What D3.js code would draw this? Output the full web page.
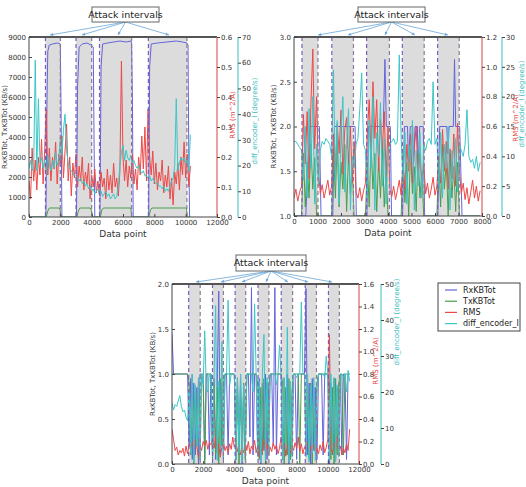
<!DOCTYPE html>
<html>
<head>
<meta charset="utf-8">
<script src="https://cdn.jsdelivr.net/npm/d3@7"></script>
<style>
  body { margin: 0; background: #fff; }
  svg { display: block; }
  text { font-family: "DejaVu Sans", sans-serif; }
</style>
</head>
<body>
<svg id="chart" width="526" height="487"></svg>
<script>
// ---- series names / colours
var seriesNames = ["RxKBTot", "TxKBTot", "RMS", "diff_encoder_I"];
var seriesColors = ["#6464dc", "#4c9c4c", "#ee4848", "#3cc6c6"];

// ---- top-left run
var tlIntervals = [[1050, 2000], [3000, 4000], [4500, 6550], [7620, 10080]];
var tlArrowX = [1340, 3380, 5680, 8940];
var tlRx = [[0,0],[1080,0],[1150,6000],[1200,8300],[1300,8600],[1500,8650],[1800,8700],[2000,8650],[2050,5000],[2100,0],
  [3030,0],[3100,6500],[3200,8500],[3400,8650],[3700,8700],[3950,8600],[4100,8500],[4150,4000],[4200,0],
  [4530,0],[4600,7500],[4700,8650],[5000,8700],[5400,8750],[5800,8800],[6200,8750],[6500,8800],[6550,8700],[6600,6000],[6650,0],
  [7640,0],[7700,7500],[7800,8650],[8200,8700],[8800,8750],[9400,8800],[9800,8750],[10080,8700],[10150,8600],[10200,3000],[10250,0],[10300,0]];
var tlTx = [[0,0],[1100,0],[1200,300],[1300,450],[1950,450],[2000,300],[2050,0],
  [3050,0],[3150,300],[3250,450],[3900,450],[4000,300],[4050,0],
  [4550,0],[4650,350],[4750,450],[6500,450],[6550,0],
  [7650,0],[7750,350],[7850,450],[10050,450],[10100,0],[10300,0]];
var tlStep = 100;
var tlRms = [0.12,0.06,0.23,0.12,0.19,0.09,0.2,0.14,0.26,0.11,
  0.22,0.36,0.14,0.23,0.12,0.2,0.16,0.25,0.11,0.21,
  0.17,0.27,0.13,0.22,0.31,0.12,0.2,0.07,0.18,0.13,
  0.21,0.1,0.17,0.12,0.2,0.09,0.15,0.11,0.18,0.06,
  0.14,0.1,0.16,0.08,0.12,0.07,0.15,0.1,0.13,0.06,
  0.16,0.09,0.14,0.08,0.18,0.1,0.13,0.07,0.15,0.52,
  0.2,0.12,0.19,0.1,0.17,0.13,0.21,0.11,0.16,0.09,
  0.2,0.14,0.27,0.16,0.3,0.12,0.36,0.2,0.14,0.22,
  0.11,0.18,0.09,0.15,0.12,0.19,0.08,0.14,0.1,0.17,
  0.06,0.13,0.04,0.15,0.11,0.18,0.09,0.2,0.14,0.25,
  0.13,0.21,0.1,0.17];
var tlEnc = [19,22,18,20,61,18,46,21,23,19,
  22,17,24,20,18,22,19,25,20,22,
  31,24,34,40,26,21,19,18,17,16,
  16,15,14,15,13,14,12,13,11,12,
  10,11,9,10,11,9,10,8,9,10,
  8,9,7,8,9,7,8,12,20,25,
  28,22,26,23,22,24,21,22,20,19,
  20,18,17,18,16,16,15,16,14,15,
  14,13,13,12,12,11,12,10,11,10,
  12,14,15,20,46,18,21,23,22,23,
  21,22,18,32];
var tlXTicks = [0, 2000, 4000, 6000, 8000, 10000, 12000];
var tlYTicks = [0, 1000, 2000, 3000, 4000, 5000, 6000, 7000, 8000, 9000];
var tlRmsTicks = [0, 0.1, 0.2, 0.3, 0.4, 0.5, 0.6];
var tlEncTicks = [0, 10, 20, 30, 40, 50, 60, 70];

// ---- top-right run
var trIntervals = [[340, 1020], [1610, 2530], [3090, 4060], [4610, 5540], [6110, 7030]];
var trArrowX = [1020, 2300, 3870, 5150, 6550];
var trRx = [[0,1],[500,1],[600,1.6],[680,2],[1080,2],[1150,1],
  [1650,1],[1720,2],[2600,2],[2650,1],
  [3100,1],[3170,2],[3800,2],[3870,2.75],[3930,2],[4100,2],[4150,1],
  [4620,1],[4700,2],[4830,2],[4870,1.6],[4950,2],[5050,2],[5080,1.5],[5150,2],[5250,2],[5280,1.5],[5350,2],[5500,2],[5560,1],
  [6120,1],[6200,2],[6500,2],[6550,1.7],[6600,2],[6780,2],[6830,2.75],[6880,2],[7050,2],[7150,1],[7920,1]];
var trStep = 80;
var trTx = [1,1,1,1,1, 1.7,1.1,1.6,1.2,1.8,1.3,1.65,1.0, 1,1,1,1,1,1,1,1,
  1.75,1.2,1.85,1.1,1.6,1.3,1.8,1.05,1.7,1.25,1.55,1.0, 1,1,1,1,1,1,
  1.6,1.1,1.8,1.3,1.7,1.05,1.65,1.2,1.75,1.1,1.5,1.0, 1,1,1,1,1,1,1,
  1.7,1.15,1.6,1.0,1.75,1.25,1.55,1.05,1.7,1.2,1.5,1.0, 1,1,1,1,1,1,1,
  1.65,1.1,1.8,1.3,1.6,1.0,1.7,1.2,1.55,1.05,1.6,1.0, 1,1,1,1,1,1,1,1,1,1,1];
var trRms = [0.12,0.18,0.1,0.16,0.2,0.68,0.35,0.7,0.25,0.75,
  1.12,0.45,0.8,0.3,0.15,0.21,0.12,0.18,0.24,0.14,
  0.2,0.55,0.3,0.62,0.42,0.71,0.28,0.58,0.66,0.35,
  0.6,0.22,0.5,0.16,0.12,0.19,0.1,0.17,0.22,0.55,
  0.78,0.4,0.9,0.52,0.78,0.3,0.65,0.45,0.7,0.26,
  0.6,0.18,0.13,0.2,0.11,0.17,0.24,0.14,0.35,0.18,
  0.48,0.3,0.55,0.22,0.46,0.6,0.25,0.42,0.2,0.35,
  0.15,0.22,0.12,0.18,0.26,0.14,0.2,0.4,0.22,0.58,
  0.3,0.5,0.18,0.45,0.25,0.55,0.2,0.62,0.3,0.15,
  0.22,0.11,0.19,0.08,0.16,0.24,0.12,0.2,0.1,0.17];
var trEnc = [12.5,12.5,12,11.5,11,6,15,3,18,8,
  20,2,12,5,11,12.5,12,13,12.5,12,
  10,24.5,6,16,2,14,20,4,12,18,
  1,10,8,12,13,18,24,12,11,3,
  16,8,20,1,14,10,19,5,13,2,
  11,12,12.5,13,12,12.5,27,13,6,14,
  2,12,9,16,1,11,5,14,3,12,
  11,12.5,13,12,22.5,12,13,5,14,3,
  12,8,15,1,11,6,13,4,12,11,
  10,12,17.8,10,9,9.5,8,10,7.5,9];
var trXTicks = [0, 1000, 2000, 3000, 4000, 5000, 6000, 7000, 8000];
var trYTicks = [1.0, 1.5, 2.0, 2.5, 3.0];
var trRmsTicks = [0, 0.2, 0.4, 0.6, 0.8, 1.0, 1.2];
var trEncTicks = [0, 5, 10, 15, 20, 25, 30];

// ---- bottom run
var btIntervals = [[1070, 1810], [2600, 3300], [4050, 4730], [5520, 6220], [7010, 7740], [8550, 9270], [10040, 10740]];
var btArrowX = [1540, 3140, 4490, 6030, 7440, 8730, 10270];
var btStep = 100;
var btRx = [1.45,1,1,1,1,1,1,1,1,1,1,
  0.2,0.95,0.05,0.9,0.1,0.85,0.0,1.0,
  1,0.9,0.05,1,1,0.1,1,
  0.1,0.95,0.05,0.85,1.92,0.1,0.9,0.05,
  1,1,0.1,1,1,1,1,
  0.05,0.9,0.1,1.0,0.0,0.85,0.15,
  1,1,0.3,1.96,0.1,1,1,
  0.1,0.95,0.0,0.9,0.15,1.0,0.05,0.85,
  1,1,0.2,1.96,0.1,1,1,1,
  0.05,0.95,0.1,1.0,0.0,0.9,0.1,
  1,1,0.05,1,1,1,1,1,
  1.95,0.1,0.9,0.0,0.95,0.15,0.85,0.05,
  1,1,1,0.1,1,1,1,
  0.0,0.9,0.1,0.95,0.05,0.85,0.2,
  1,0.1,1,1,0.05,1,1];
var btTx = [1,1,1,1,1,1,1,1,1,1,1,
  0.9,0.1,1.0,0.0,0.8,0.2,0.95,0.05,
  1,1,0.0,1,1,1,1,
  0.05,0.9,0.1,0.85,0.0,0.95,0.2,0.9,
  1,1,1,1,1,1,1,
  0.1,0.95,0.0,0.8,0.15,0.9,0.05,
  1,1,1,1,1,1,1,
  0.9,0.05,0.85,0.1,0.95,0.0,0.9,0.15,
  1,1,1,1,1,1,1,1,
  0.9,0.0,0.85,0.1,0.95,0.05,0.8,
  1,1,1,1,0.0,1,1,1,
  0.1,0.95,0.05,0.9,0.0,0.85,0.2,0.9,
  1,1,1,1,1,1,1,
  0.9,0.05,0.85,0.0,0.95,0.1,0.9,
  1,1,0.1,1,1,1,1];
var btRms = [0.31,0.22,0.12,0.15,0.08,0.12,0.1,0.14,0.07,0.16,
  0.09,0.18,0.13,0.2,0.1,0.22,0.15,0.05,0.17,0.12,
  0.2,0.16,0.21,0.13,0.19,0.17,0.22,0.14,0.25,0.1,
  0.18,0.06,0.15,0.2,0.12,0.16,0.1,0.18,0.13,0.24,
  0.15,0.2,0.11,0.17,0.08,0.14,0.1,0.19,0.12,0.2,
  0.09,0.16,0.13,0.21,0.1,0.17,0.06,0.14,0.1,0.22,
  0.12,0.18,0.08,0.15,0.11,0.19,0.13,0.17,0.09,0.14,
  0.24,0.12,0.18,0.07,0.15,0.2,0.1,0.16,0.12,0.19,
  0.14,0.24,0.11,0.18,0.09,0.15,0.12,0.2,0.08,0.16,
  0.11,0.18,0.1,0.14,0.09,0.17,0.12,0.2,0.1,0.15,
  0.22,1.15,0.15,0.1,0.19,0.12,0.25,0.11,0.16,0.08,
  0.14,0.1,0.18,0.12,0.31];
var btEnc = [17,15,16.5,16,17.5,19,16,14.5,15,13,12,
  20,3,25,0.5,22,5,24,1,
  25,22,37,21,20,25,25,
  2,24,44,1,23,4,34,2,
  25,25,45.5,22,25,25,25,
  1,24,3,25,0.5,22,4,
  25,25,25,25,20,44.5,25,
  2,23,0.5,25,36,1,24,3,
  25,25,25,25,22,25,33,25,
  1,24,4,38,0.5,23,2,
  25,25,24,25,25,45,25,25,
  2,25,0.5,22,3,24,1,20,
  25,25,25,25,24,30,25,
  1,25,4,24,0.5,22,2,
  25,25,24,25,20,26,23];
var btXTicks = [0, 2000, 4000, 6000, 8000, 10000, 12000];
var btYTicks = [0, 0.5, 1.0, 1.5, 2.0];
var btRmsTicks = [0, 0.2, 0.4, 0.6, 0.8, 1.0, 1.2, 1.4, 1.6];
var btEncTicks = [0, 10, 20, 30, 40, 50];

function sampled(values, step) {
  return values.map(function(v, i) { return [i * step, v]; });
}

var svg = d3.select("#chart");
var clipCount = 0;

function drawPanel(p) {
  var g = svg.append("g");
  var x = d3.scaleLinear().domain([0, p.xMax]).range([p.l, p.r]);
  var y = d3.scaleLinear().domain(p.yDom).range([p.b, p.t]);
  var yRms = d3.scaleLinear().domain(p.rmsDom).range([p.b, p.t]);
  var yEnc = d3.scaleLinear().domain(p.encDom).range([p.b, p.t]);

  var clipId = "clip" + (clipCount++);
  g.append("clipPath").attr("id", clipId)
    .append("rect").attr("x", p.l).attr("y", p.t).attr("width", p.r - p.l).attr("height", p.b - p.t);

  var plot = g.append("g").attr("clip-path", "url(#" + clipId + ")");

  // attack interval shading
  plot.selectAll("rect.span").data(p.intervals).enter().append("rect")
    .attr("x", function(d) { return x(d[0]); })
    .attr("y", p.t)
    .attr("width", function(d) { return x(d[1]) - x(d[0]); })
    .attr("height", p.b - p.t)
    .attr("fill", "#dcdcdc");

  var lineFor = function(sc) {
    return d3.line().x(function(d) { return x(d[0]); }).y(function(d) { return sc(d[1]); });
  };
  var series = [[p.rx, y], [p.tx, y], [p.rms, yRms], [p.enc, yEnc]];
  series.forEach(function(s, i) {
    plot.append("path").datum(s[0])
      .attr("d", lineFor(s[1]))
      .attr("fill", "none")
      .attr("stroke", seriesColors[i])
      .attr("stroke-width", 1)
      .attr("stroke-linejoin", "round");
  });

  // dashed interval edges
  p.intervals.forEach(function(d) {
    [[d[0], "#7a5fb8"], [d[1], "#8c7a96"]].forEach(function(e) {
      plot.append("line")
        .attr("x1", x(e[0])).attr("x2", x(e[0]))
        .attr("y1", p.t).attr("y2", p.b)
        .attr("stroke", e[1]).attr("stroke-width", 1.2)
        .attr("stroke-dasharray", "4,3");
    });
  });

  // frame
  g.append("line").attr("x1", p.l).attr("x2", p.l).attr("y1", p.t).attr("y2", p.b).attr("stroke", "#444");
  g.append("line").attr("x1", p.l).attr("x2", p.r).attr("y1", p.b).attr("y2", p.b).attr("stroke", "#444");
  g.append("line").attr("x1", p.l).attr("x2", p.r).attr("y1", p.t).attr("y2", p.t).attr("stroke", "#555").attr("stroke-width", 2);
  g.append("line").attr("x1", p.r).attr("x2", p.r).attr("y1", p.t).attr("y2", p.b).attr("stroke", "#e06060").attr("stroke-width", 1.2);
  g.append("line").attr("x1", p.encX).attr("x2", p.encX).attr("y1", p.t).attr("y2", p.b).attr("stroke", "#5cc8c8").attr("stroke-width", 1.2);

  function styleAxis(sel) {
    sel.select(".domain").remove();
    sel.selectAll(".tick line").attr("stroke", "#444");
    sel.selectAll(".tick text").attr("fill", "#333").style("font-size", "7px").style("font-family", "DejaVu Sans, sans-serif");
  }

  g.append("g").attr("transform", "translate(0," + p.b + ")")
    .call(d3.axisBottom(x).tickValues(p.xTicks).tickFormat(d3.format("d")).tickSizeInner(-3).tickSizeOuter(0).tickPadding(3))
    .call(styleAxis);
  g.append("g").attr("transform", "translate(" + p.l + ",0)")
    .call(d3.axisLeft(y).tickValues(p.yTicks).tickFormat(d3.format(p.yFmt)).tickSizeInner(-3).tickSizeOuter(0).tickPadding(3))
    .call(styleAxis);
  g.append("g").attr("transform", "translate(" + p.r + ",0)")
    .call(d3.axisRight(yRms).tickValues(p.rmsTicks).tickFormat(d3.format(".1f")).tickSizeInner(3).tickSizeOuter(0).tickPadding(1))
    .call(styleAxis);
  g.append("g").attr("transform", "translate(" + p.encX + ",0)")
    .call(d3.axisRight(yEnc).tickValues(p.encTicks).tickFormat(d3.format("d")).tickSizeInner(3).tickSizeOuter(0).tickPadding(1))
    .call(styleAxis);

  // axis titles
  var midY = (p.t + p.b) / 2;
  g.append("text").attr("transform", "translate(" + p.yLabX + "," + midY + ") rotate(-90)")
    .attr("text-anchor", "middle").attr("dy", "0.35em").attr("fill", "#333").style("font-size", "7px")
    .text("RxKBTot, TxKBTot  (KB/s)");
  g.append("text").attr("transform", "translate(" + p.rmsLab[0] + "," + p.rmsLab[1] + ") rotate(-90)")
    .attr("text-anchor", "middle").attr("dy", "0.35em").attr("fill", "#e84444").style("font-size", "7px")
    .text("RMS (m^2/A)");
  g.append("text").attr("transform", "translate(" + p.encLab[0] + "," + p.encLab[1] + ") rotate(-90)")
    .attr("text-anchor", "middle").attr("dy", "0.35em").attr("fill", "#34bcbc").style("font-size", "7px")
    .text("diff_encoder_I (degree/s)");
  g.append("text").attr("x", (p.l + p.r) / 2).attr("y", p.xLabY)
    .attr("text-anchor", "middle").attr("fill", "#333").style("font-size", "9px")
    .text("Data point");

  // "Attack intervals" callout
  var bx = p.callout[0], by = p.callout[1], bw = p.callout[2], bh = p.callout[3];
  var ox = bx + bw / 2, oy = by + bh;
  p.arrows.forEach(function(a) {
    var tx = x(a), ty = p.t - 2;
    var ang = Math.atan2(ty - oy, tx - ox);
    g.append("line").attr("x1", ox).attr("y1", oy).attr("x2", tx).attr("y2", ty)
      .attr("stroke", "#6aa6d8").attr("stroke-width", 0.8);
    var s = 3.5;
    var pts = [[tx, ty],
      [tx - s * Math.cos(ang - 0.45), ty - s * Math.sin(ang - 0.45)],
      [tx - s * Math.cos(ang + 0.45), ty - s * Math.sin(ang + 0.45)]];
    g.append("polygon").attr("points", pts.map(function(q) { return q.join(","); }).join(" "))
      .attr("fill", "#6aa6d8");
  });
  g.append("rect").attr("x", bx).attr("y", by).attr("width", bw).attr("height", bh)
    .attr("fill", "#fff").attr("stroke", "#666").attr("stroke-width", 1);
  g.append("text").attr("x", ox).attr("y", by + bh / 2).attr("dy", "0.35em")
    .attr("text-anchor", "middle").attr("fill", "#222").style("font-size", "9.5px")
    .text("Attack intervals");
}

drawPanel({
  l: 29, r: 217, t: 37, b: 217, encX: 238,
  xMax: 12000, yDom: [0, 9000], rmsDom: [0, 0.6], encDom: [0, 70], yFmt: "d",
  xTicks: tlXTicks, yTicks: tlYTicks, rmsTicks: tlRmsTicks, encTicks: tlEncTicks,
  intervals: tlIntervals, arrows: tlArrowX,
  rx: tlRx, tx: tlTx, rms: sampled(tlRms, tlStep), enc: sampled(tlEnc, tlStep),
  yLabX: 5, rmsLab: [233, 115], encLab: [255, 121], xLabY: 237,
  callout: [92, 7, 67, 15]
});

drawPanel({
  l: 294, r: 482, t: 37, b: 216, encX: 502,
  xMax: 8000, yDom: [1, 3], rmsDom: [0, 1.2], encDom: [0, 30], yFmt: ".1f",
  xTicks: trXTicks, yTicks: trYTicks, rmsTicks: trRmsTicks, encTicks: trEncTicks,
  intervals: trIntervals, arrows: trArrowX,
  rx: trRx, tx: sampled(trTx, trStep), rms: sampled(trRms, trStep), enc: sampled(trEnc, trStep),
  yLabX: 274, rmsLab: [516, 118], encLab: [522, 104], xLabY: 236,
  callout: [358, 7, 67, 15]
});

drawPanel({
  l: 172, r: 359, t: 284, b: 464, encX: 381,
  xMax: 12000, yDom: [0, 2], rmsDom: [0, 1.6], encDom: [0, 50], yFmt: ".1f",
  xTicks: btXTicks, yTicks: btYTicks, rmsTicks: btRmsTicks, encTicks: btEncTicks,
  intervals: btIntervals, arrows: btArrowX,
  rx: sampled(btRx, btStep), tx: sampled(btTx, btStep), rms: sampled(btRms, btStep), enc: sampled(btEnc, btStep),
  yLabX: 153, rmsLab: [376, 361], encLab: [397, 322], xLabY: 484,
  callout: [236, 255, 70, 16]
});

// legend
var legend = svg.append("g");
legend.append("rect").attr("x", 438).attr("y", 283).attr("width", 82).attr("height", 48)
  .attr("fill", "#fff").attr("stroke", "#444").attr("stroke-width", 1);
seriesNames.forEach(function(name, i) {
  var ly = 290 + i * 11.2;
  legend.append("line").attr("x1", 445).attr("x2", 457).attr("y1", ly).attr("y2", ly)
    .attr("stroke", seriesColors[i]).attr("stroke-width", 1.2);
  legend.append("text").attr("x", 463).attr("y", ly).attr("dy", "0.35em")
    .attr("fill", "#222").style("font-size", "8px").text(name);
});
</script>
</body>
</html>
